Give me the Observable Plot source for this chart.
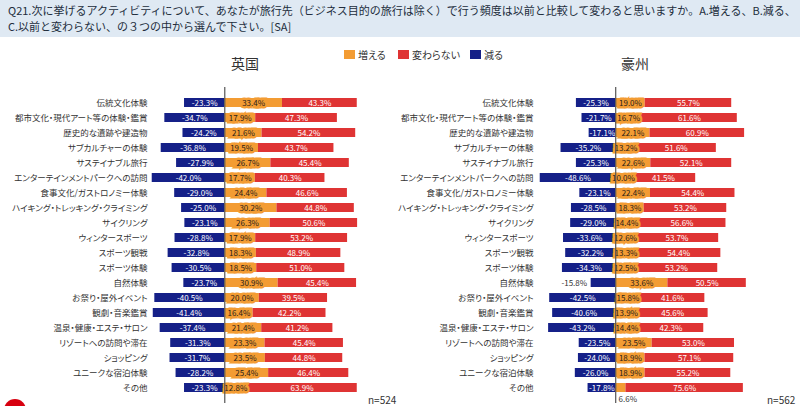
<!DOCTYPE html>
<html>
<head>
<meta charset="utf-8">
<script src="https://cdn.jsdelivr.net/npm/d3@7"></script>
<script src="https://cdn.jsdelivr.net/npm/@observablehq/plot@0.6"></script>
<style>
  html, body { margin:0; padding:0; }
  body { width:800px; height:406px; position:relative; overflow:hidden; background:#fff;
         font-family:"Noto Sans CJK JP","Noto Sans",sans-serif; color:#333; }
  #title { position:absolute; left:0; top:0; width:800px; height:37px; background:#dfe9f3;
           font-size:11px; line-height:15.5px; color:#222d3c; padding:3px 0 0 8px; box-sizing:border-box; white-space:nowrap; }
  .abs { position:absolute; }
  .abs svg { overflow:visible; }
  .abs svg text { font-feature-settings:"palt"; }
  .legend { position:absolute; top:47px; font-size:10px; color:#333; display:flex; align-items:center; font-feature-settings:"palt"; }
  .sw { display:inline-block; width:11px; height:9px; margin-right:3px; }
  .ptitle { position:absolute; top:53px; font-size:14px; color:#333; width:100px; text-align:center; }
  .n { position:absolute; top:395px; font-size:10px; line-height:10px; color:#333; }
  #logo { position:absolute; left:4px; top:399px; width:22px; height:22px; border-radius:50%; background:#d7000f; }
</style>
</head>
<body>
<div id="title">Q21.次に挙げるアクティビティについて、あなたが旅行先（ビジネス目的の旅行は除く）で行う頻度は以前と比較して変わると思いますか。A.増える、B.減る、<br>C.以前と変わらない、の３つの中から選んで下さい。[SA]</div>
<div id="legend"></div>
<div class="ptitle" style="left:195px">英国</div>
<div class="ptitle" style="left:585px">豪州</div>
<div id="left" class="abs" style="left:0px; top:66px;"></div>
<div id="right" class="abs" style="left:400px; top:66px;"></div>
<div class="n" style="left:368px">n=524</div>
<div class="n" style="left:767px">n=562</div>
<div id="logo"></div>
<script>
// ---- data ----
const categories = [
  "伝統文化体験","都市文化・現代アート等の体験・鑑賞","歴史的な遺跡や建造物","サブカルチャーの体験",
  "サステイナブル旅行","エンターテインメントパークへの訪問","食事文化/ガストロノミー体験",
  "ハイキング・トレッキング・クライミング","サイクリング","ウィンタースポーツ","スポーツ観戦",
  "スポーツ体験","自然体験","お祭り・屋外イベント","観劇・音楽鑑賞","温泉・健康・エステ・サロン",
  "リゾートへの訪問や滞在","ショッピング","ユニークな宿泊体験","その他"
];
const seriesNames = ["増える","変わらない","減る"];
const seriesColors = ["#f39c33","#df3434","#152088"];

const ukDecrease = [-23.3,-34.7,-24.2,-36.8,-27.9,-42.0,-29.0,-25.0,-23.1,-28.8,-32.8,-30.5,-23.7,-40.5,-41.4,-37.4,-31.3,-31.7,-28.2,-23.3];
const ukIncrease = [33.4,17.9,21.6,19.5,26.7,17.7,24.4,30.2,26.3,17.9,18.3,18.5,30.9,20.0,16.4,21.4,23.3,23.5,25.4,12.8];
const ukSame     = [43.3,47.3,54.2,43.7,45.4,40.3,46.6,44.8,50.6,53.2,48.9,51.0,45.4,39.5,42.2,41.2,45.4,44.8,46.4,63.9];

const auDecrease = [-25.3,-21.7,-17.1,-35.2,-25.3,-48.6,-23.1,-28.5,-29.0,-33.6,-32.2,-34.3,-15.8,-42.5,-40.6,-43.2,-23.5,-24.0,-26.0,-17.8];
const auIncrease = [19.0,16.7,22.1,13.2,22.6,10.0,22.4,18.3,14.4,12.6,13.3,12.5,33.6,15.8,13.9,14.4,23.5,18.9,18.9,6.6];
const auSame     = [55.7,61.6,60.9,51.6,52.1,41.5,54.4,53.2,56.6,53.7,54.4,53.2,50.5,41.6,45.6,42.3,53.0,57.1,55.2,75.6];

// labels drawn outside the bar (Australia)
const auDecOutside = ["自然体験"];
const auIncBelow = ["その他"];

// ---- legend ----
const leg = document.getElementById("legend");
const legPos = [344, 398, 470];
seriesNames.forEach((s,i)=>{
  const d = document.createElement("div");
  d.className = "legend";
  d.style.left = legPos[i] + "px";
  d.innerHTML = `<span class="sw" style="background:${seriesColors[i]}"></span>${s}`;
  leg.appendChild(d);
});

function panel(dec, inc, same, o) {
  const segs = [];
  categories.forEach((c,i)=>{
    segs.push({cat:c, key:"減る", x1:dec[i], x2:0, v:dec[i]});
    segs.push({cat:c, key:"増える", x1:0, x2:inc[i], v:inc[i]});
    segs.push({cat:c, key:"変わらない", x1:inc[i], x2:inc[i]+same[i], v:same[i]});
  });
  const fmt = d => d.v.toFixed(1) + "%";
  const isOutDec = d => d.key==="減る" && (o.decOutside||[]).includes(d.cat);
  const isBelowInc = d => d.key==="増える" && (o.incBelow||[]).includes(d.cat);
  const inside = segs.filter(d => !isOutDec(d) && !isBelowInc(d));
  return Plot.plot({
    width:400, height:340,
    marginTop:21, marginBottom:3, marginLeft:o.marginLeft, marginRight:o.marginRight,
    style:{fontFamily:"'Noto Sans CJK JP', sans-serif", background:"transparent", overflow:"visible"},
    x:{domain:o.domain, axis:null},
    y:{domain:categories, padding:0.4, axis:null},
    color:{domain:seriesNames, range:seriesColors},
    marks:[
      Plot.barX(segs, {x1:"x1", x2:"x2", y:"cat", fill:"key"}),
      Plot.axisY({tickSize:0, tickPadding:3, fontSize:8.5, color:"#333", label:null}),
      Plot.text(inside.filter(d=>d.key!=="増える"), {x:d=>(d.x1+d.x2)/2, y:"cat", text:fmt, fontSize:8, fill:"#ffffff"}),
      Plot.text(inside.filter(d=>d.key==="増える"), {x:d=>(d.x1+d.x2)/2, y:"cat", text:fmt, fontSize:8,
        fill:"#2b2218", stroke:seriesColors[0], strokeWidth:5, strokeLinejoin:"miter"}),
      Plot.text(segs.filter(isOutDec), {x:"x1", y:"cat", text:fmt, fontSize:8, fill:"#333", textAnchor:"end", dx:-4}),
      Plot.text(segs.filter(isBelowInc), {x:d=>(d.x1+d.x2)/2, y:"cat", text:fmt, fontSize:8, fill:"#333", dx:7, dy:11}),
      Plot.ruleX([0], {stroke:"#555", strokeWidth:1.2})
    ]
  });
}

document.getElementById("left").appendChild(
  panel(ukDecrease, ukIncrease, ukSame, {domain:[-43,100], marginLeft:150, marginRight:3})
);
document.getElementById("right").appendChild(
  panel(auDecrease, auIncrease, auSame, {domain:[-51,100], marginLeft:136, marginRight:29.5, decOutside:auDecOutside, incBelow:auIncBelow})
);
</script>
</body>
</html>
